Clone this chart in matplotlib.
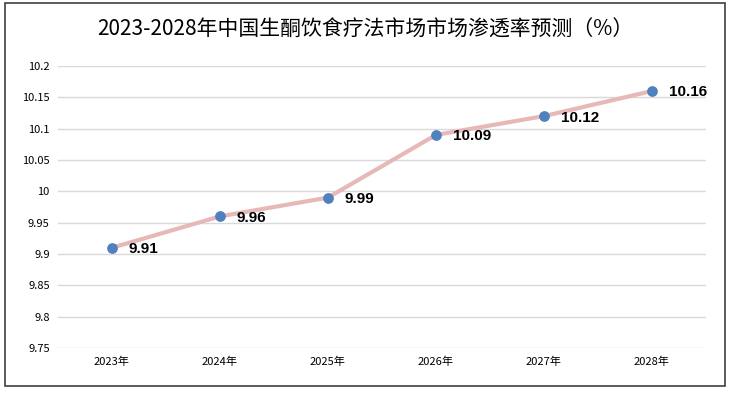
import matplotlib.pyplot as plt
from matplotlib.patches import Rectangle

plt.rcParams['font.family'] = ['Noto Sans CJK SC', 'DejaVu Sans']

# chart data
years = ["2023年", "2024年", "2025年", "2026年", "2027年", "2028年"]
rates = [9.91, 9.96, 9.99, 10.09, 10.12, 10.16]
y_ticks = [9.75, 9.8, 9.85, 9.9, 9.95, 10, 10.05, 10.1, 10.15, 10.2]
y_tick_labels = ["9.75", "9.8", "9.85", "9.9", "9.95", "10", "10.05", "10.1", "10.15", "10.2"]
title = "2023-2028年中国生酮饮食疗法市场市场渗透率预测（%）"

fig = plt.figure(figsize=(7.36, 3.94), dpi=100)
ax = fig.add_axes([0.0788, 0.1168, 0.8802, 0.7157])

x = list(range(len(years)))
ax.plot(x, rates, color="#e6b9b8", linewidth=3, zorder=2)
ax.scatter(x, rates, color="#4f81bd", s=45, zorder=3)

for xi, v in zip(x, rates):
    ax.annotate(f"{v:g}", (xi, v), xytext=(12, -1), textcoords="offset points",
                ha="left", va="center", fontsize=11, fontweight="bold",
                family=["Liberation Sans", "DejaVu Sans"])

ax.set_xlim(-0.5, len(years) - 0.5)
ax.set_ylim(9.75, 10.2)
ax.set_xticks(x)
ax.set_xticklabels(years, fontsize=8)
ax.set_yticks(y_ticks)
ax.set_yticklabels(y_tick_labels, fontsize=8)
ax.tick_params(length=0, pad=6)
ax.grid(axis="y", color="#d9d9d9", linewidth=1)
ax.set_axisbelow(True)
for s in ax.spines.values():
    s.set_visible(False)

fig.text(0.497, 0.924, title, ha="center", va="center", fontsize=15)

# outer frame
fig.patches.append(Rectangle((5 / 736, 8 / 394), 720 / 736, 383 / 394, transform=fig.transFigure,
                             fill=False, edgecolor="#404040", linewidth=1.2))

fig.savefig("out.png", dpi=100)
